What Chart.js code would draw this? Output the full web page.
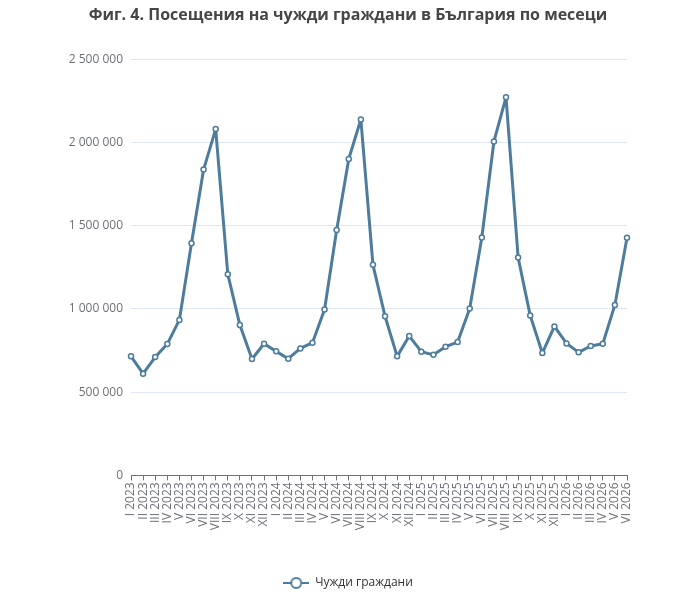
<!DOCTYPE html>
<html><head><meta charset="utf-8">
<script src="https://cdn.jsdelivr.net/npm/chart.js@4"></script>
<style>html,body{margin:0;padding:0;background:#fff}#wrap{width:696px;height:600px}</style>
</head><body><div id="wrap"><canvas id="c" width="696" height="600"></canvas></div>
<script>
const months = ["I","II","III","IV","V","VI","VII","VIII","IX","X","XI","XII"];
const years = [2023, 2024, 2025, 2026];
const categories = [];
years.forEach(y => months.forEach((m, i) => { if (y < 2026 || i < 6) categories.push(m + " " + y); }));
const seriesName = "Чужди граждани";
const values = [
  715000, 611000, 711000, 789000, 934000, 1394000, 1837000, 2080000, 1209000, 903000, 699000, 791000,
  745000, 701000, 763000, 797000, 996000, 1474000, 1901000, 2138000, 1265000, 956000, 715000, 837000,
  743000, 724000, 773000, 801000, 1002000, 1429000, 2006000, 2271000, 1309000, 960000, 735000, 895000,
  793000, 739000, 777000, 791000, 1024000, 1427000
];
const yTicks = [0, 500000, 1000000, 1500000, 2000000, 2500000];
const titleText = "Фиг. 4. Посещения на чужди граждани в България по месеци";
const lineColor = "#4d7c9c";

function legendIcon() {
  const c = document.createElement("canvas");
  c.width = 26; c.height = 14;
  const g = c.getContext("2d");
  g.strokeStyle = lineColor; g.lineWidth = 2;
  g.beginPath(); g.moveTo(0, 7); g.lineTo(26, 7); g.stroke();
  g.fillStyle = "#fff";
  g.beginPath(); g.arc(13, 7, 5, 0, Math.PI * 2); g.fill(); g.stroke();
  return c;
}
const icon = legendIcon();
const fmt = v => String(v).replace(/\B(?=(\d{3})+(?!\d))/g, " ");

new Chart(document.getElementById("c"), {
  type: "line",
  data: {
    labels: categories,
    datasets: [{
      label: seriesName,
      data: values,
      borderColor: lineColor,
      backgroundColor: "#fff",
      borderWidth: 3,
      borderJoinStyle: "round",
      pointRadius: 2.5,
      pointBorderWidth: 1.5,
      pointBackgroundColor: "#fff",
      pointBorderColor: lineColor,
      tension: 0
    }]
  },
  options: {
    responsive: false,
    animation: false,
    layout: { padding: { left: 69, right: 69, top: 6, bottom: 1 } },
    plugins: {
      title: {
        display: true, text: titleText, color: "#464646",
        font: { family: "Open Sans", size: 16, weight: "bold" },
        padding: { top: 0, bottom: 34 }
      },
      legend: {
        position: "bottom",
        labels: {
          usePointStyle: true, pointStyleWidth: 26, color: "#333",
          font: { family: "Open Sans", size: 12 },
          padding: 4,
          generateLabels: chart => [{
            text: seriesName, pointStyle: icon, fillStyle: "#fff",
            strokeStyle: lineColor, lineWidth: 0, datasetIndex: 0, fontColor: "#333"
          }]
        }
      },
      tooltip: { enabled: false }
    },
    scales: {
      x: {
        offset: false,
        afterFit: axis => { axis.height = 97.6; },
        grid: { display: true, drawOnChartArea: false, drawTicks: true, tickLength: 5, color: "#6E7079" },
        border: { display: true, color: "#6E7079" },
        ticks: {
          autoSkip: false, maxRotation: 90, minRotation: 90, color: "#6E7079",
          font: { family: "Open Sans", size: 12 }, padding: 2
        }
      },
      y: {
        min: 0, max: 2500000,
        afterFit: axis => { axis.width = 62; },
        afterBuildTicks: axis => { axis.ticks = yTicks.map(v => ({ value: v })); },
        grid: { color: "#E0E6F1", drawTicks: false },
        border: { display: false },
        ticks: {
          color: "#6E7079", padding: 8,
          font: { family: "Open Sans", size: 12 },
          callback: v => fmt(v)
        }
      }
    }
  }
});
</script></body></html>
